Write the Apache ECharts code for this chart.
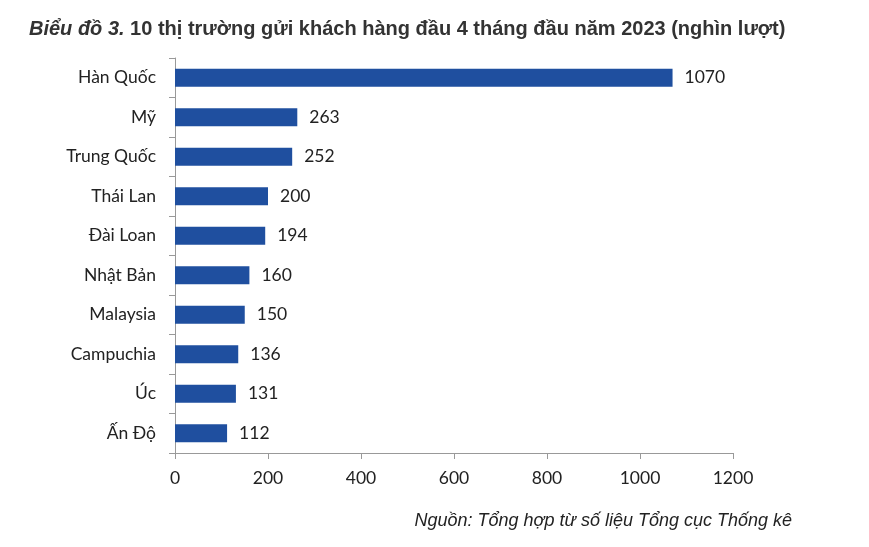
<!DOCTYPE html>
<html>
<head>
<meta charset="utf-8">
<script src="https://cdn.jsdelivr.net/npm/echarts@6/dist/echarts.min.js"></script>
<style>
html,body{margin:0;padding:0;background:#fff;}
#c{width:869px;height:547px;}
</style>
</head>
<body>
<div id="c"></div>
<script>
const categories = ["Hàn Quốc","Mỹ","Trung Quốc","Thái Lan","Đài Loan","Nhật Bản","Malaysia","Campuchia","Úc","Ấn Độ"];
const values = [1070,263,252,200,194,160,150,136,131,112];
const xTicks = [0,200,400,600,800,1000,1200];

const chart = echarts.init(document.getElementById('c'));
const axisFont = {fontFamily:'Lato, "Open Sans", sans-serif', fontSize:17.5, color:'#222'};
chart.setOption({
  animation:false,
  backgroundColor:'#fff',
  title:[{
    text:'{a|Biểu đồ 3.} 10 thị trường gửi khách hàng đầu 4 tháng đầu năm 2023 (nghìn lượt)',
    left:24, top:14,
    textStyle:{fontFamily:'"Liberation Sans", Arial, sans-serif', fontSize:20, fontWeight:'bold', color:'#333',
      rich:{a:{fontFamily:'"Liberation Sans", Arial, sans-serif', fontSize:20, fontWeight:'bold', fontStyle:'italic', color:'#333'}}}
  },{
    text:'Nguồn: Tổng hợp từ số liệu Tổng cục Thống kê',
    right:72, top:507,
    textStyle:{fontFamily:'"Liberation Sans", Arial, sans-serif', fontSize:18, fontWeight:'normal', fontStyle:'italic', color:'#222'}
  }],
  grid:{left:175, right:136, top:58, bottom:94, containLabel:false},
  xAxis:{
    type:'value', min:xTicks[0], max:xTicks[xTicks.length-1], interval:200,
    axisLine:{show:true, lineStyle:{color:'#999'}},
    axisTick:{show:true, length:6, lineStyle:{color:'#999'}},
    splitLine:{show:false},
    axisLabel:Object.assign({margin:16, formatter:function(v){return String(v);}}, axisFont)
  },
  yAxis:{
    type:'category', data:categories, inverse:true,
    axisLine:{show:true, lineStyle:{color:'#999'}},
    axisTick:{show:true, length:6, lineStyle:{color:'#999'}},
    axisLabel:Object.assign({margin:19}, axisFont)
  },
  series:[{
    type:'bar', data:values, barWidth:18,
    itemStyle:{color:'#1f4f9f'},
    label:{show:true, position:'right', distance:12, fontFamily:'Lato, "Open Sans", sans-serif', fontSize:17.5, color:'#222'}
  }]
});
</script>
</body>
</html>
